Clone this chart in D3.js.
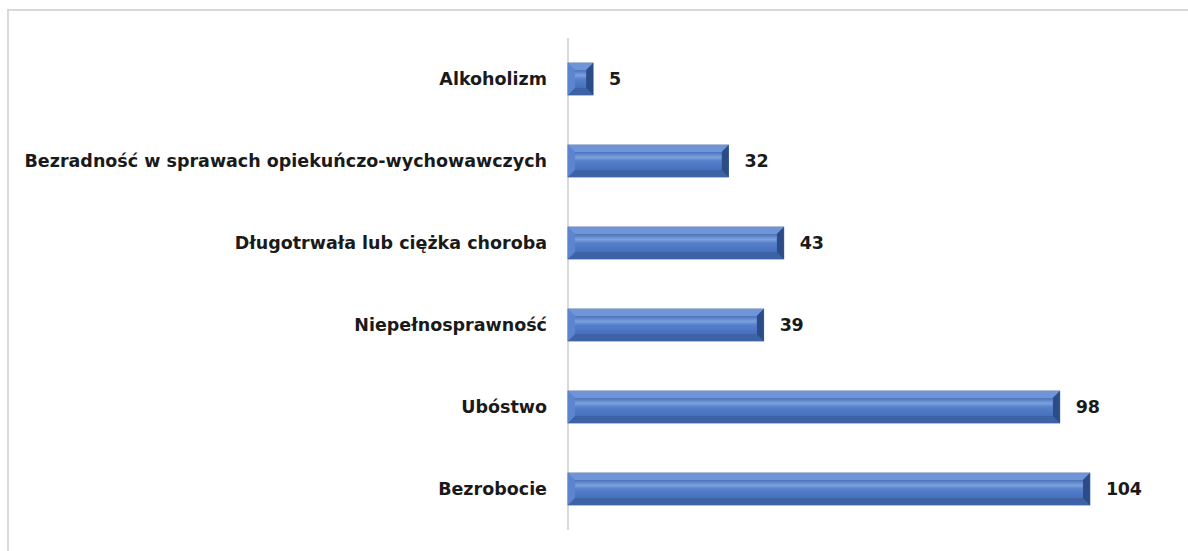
<!DOCTYPE html>
<html>
<head>
<meta charset="utf-8">
<script src="https://cdn.jsdelivr.net/npm/d3@7"></script>
<style>
  html, body { margin: 0; padding: 0; background: #fff; overflow: hidden; }
  svg { display: block; }
</style>
</head>
<body>
<div id="chart"></div>
<script>
const categories = [
  "Alkoholizm",
  "Bezradność w sprawach opiekuńczo-wychowawczych",
  "Długotrwała lub ciężka choroba",
  "Niepełnosprawność",
  "Ubóstwo",
  "Bezrobocie"
];
const values = [5, 32, 43, 39, 98, 104];

(() => {
  const width = 1188;
  const height = 551;
  const axisX = 568;

  const svg = d3.select("#chart")
    .append("svg")
    .attr("width", width)
    .attr("height", height);

  // frame, only top and left edges show in the crop
  svg.append("path")
    .attr("d", `M8,${height}V10H${width}`)
    .attr("fill", "none")
    .attr("stroke", "#d9d9d9")
    .attr("stroke-width", 2);

  const y = d3.scaleBand()
    .domain(categories)
    .range([38, 530])
    .paddingInner(0.61)
    .paddingOuter(0.305);

  const x = d3.scaleLinear()
    .domain([0, 110])
    .range([axisX, axisX + 552]);

  const defs = svg.append("defs");
  const outerGrad = defs.append("linearGradient")
    .attr("id", "outerGrad").attr("x1", 0).attr("x2", 0).attr("y1", 0).attr("y2", 1);
  outerGrad.append("stop").attr("offset", "0%").attr("stop-color", "#6f96d9");
  outerGrad.append("stop").attr("offset", "50%").attr("stop-color", "#4d77c4");
  outerGrad.append("stop").attr("offset", "100%").attr("stop-color", "#3c63a8");

  const innerGrad = defs.append("linearGradient")
    .attr("id", "innerGrad").attr("x1", 0).attr("x2", 0).attr("y1", 0).attr("y2", 1);
  innerGrad.append("stop").attr("offset", "0%").attr("stop-color", "#4a72bb");
  innerGrad.append("stop").attr("offset", "30%").attr("stop-color", "#7da1dd");
  innerGrad.append("stop").attr("offset", "50%").attr("stop-color", "#5680cc");
  innerGrad.append("stop").attr("offset", "100%").attr("stop-color", "#4670bb");

  // axis line
  svg.append("line")
    .attr("x1", axisX).attr("x2", axisX)
    .attr("y1", 38).attr("y2", 530)
    .attr("stroke", "#d9d9d9")
    .attr("stroke-width", 2);

  const data = categories.map((c, i) => ({ name: c, value: values[i] }));

  const bar = svg.append("g")
    .selectAll("g")
    .data(data)
    .join("g")
    .attr("transform", d => `translate(${x(0)},${y(d.name)})`);

  const bh = y.bandwidth();
  const inset = 7;
  const barW = d => x(d.value) - x(0);
  const ins = d => Math.min(inset, barW(d) / 2 - 1);

  bar.append("rect")
    .attr("width", barW)
    .attr("height", bh)
    .attr("fill", "url(#outerGrad)")
    .attr("stroke", "#3a5d9c")
    .attr("stroke-width", 0.8);

  // bevels
  bar.append("path")
    .attr("d", d => `M0,0L${barW(d)},0L${barW(d) - ins(d)},${inset}L${ins(d)},${inset}Z`)
    .attr("fill", "#6f95d8");
  bar.append("path")
    .attr("d", d => `M0,${bh}L${barW(d)},${bh}L${barW(d) - ins(d)},${bh - inset}L${ins(d)},${bh - inset}Z`)
    .attr("fill", "#3d62a6");
  bar.append("path")
    .attr("d", d => `M0,0L${ins(d)},${inset}L${ins(d)},${bh - inset}L0,${bh}Z`)
    .attr("fill", "#5c84cf");
  bar.append("path")
    .attr("d", d => `M${barW(d)},0L${barW(d) - ins(d)},${inset}L${barW(d) - ins(d)},${bh - inset}L${barW(d)},${bh}Z`)
    .attr("fill", "#2c4c88");

  bar.append("rect")
    .attr("x", ins)
    .attr("y", inset)
    .attr("width", d => Math.max(0, barW(d) - 2 * ins(d)))
    .attr("height", bh - 2 * inset)
    .attr("fill", "url(#innerGrad)");

  // category labels
  svg.append("g")
    .attr("font-family", "DejaVu Sans, sans-serif")
    .attr("font-weight", "bold")
    .attr("font-size", 17.5)
    .attr("letter-spacing", 0)
    .attr("fill", "#1a1a1a")
    .attr("text-anchor", "end")
    .selectAll("text")
    .data(data)
    .join("text")
    .attr("x", axisX - 21)
    .attr("y", d => y(d.name) + bh / 2)
    .attr("dy", "0.35em")
    .text(d => d.name);

  // value labels
  svg.append("g")
    .attr("font-family", "DejaVu Sans, sans-serif")
    .attr("font-weight", "bold")
    .attr("font-size", 17.5)
    .attr("letter-spacing", -0.3)
    .attr("fill", "#1a1a1a")
    .selectAll("text")
    .data(data)
    .join("text")
    .attr("x", d => x(d.value) + 16)
    .attr("y", d => y(d.name) + bh / 2)
    .attr("dy", "0.35em")
    .text(d => d.value);
})();
</script>
</body>
</html>
